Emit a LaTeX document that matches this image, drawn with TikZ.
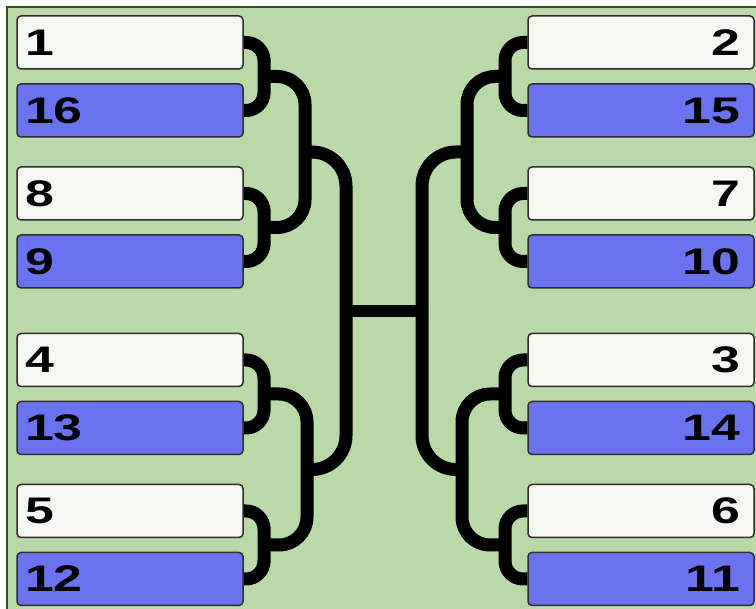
\documentclass[tikz,border=0pt]{standalone}
\usepackage{fontspec}
\newfontfamily\seedfont[FakeStretch=1.4]{Liberation Sans Bold}
\usetikzlibrary{positioning}
\definecolor{fieldgreen}{RGB}{187,216,168}
\definecolor{framegreen}{RGB}{45,85,35}
\definecolor{topwhite}{RGB}{246,246,244}
\definecolor{lowblue}{RGB}{106,114,240}
\definecolor{edgegray}{RGB}{45,45,45}

\begin{document}
\begin{tikzpicture}[x=1pt, y=-1pt,
  seed/.style={rectangle, rounded corners=4pt, draw=edgegray, line width=1.5pt,
    minimum width=226pt, minimum height=53pt, inner ysep=0pt,
    font=\seedfont\fontsize{37}{40}\selectfont},
  seedL/.style={seed, inner xsep=8pt, text width=210pt, align=left},
  seedR/.style={seed, inner xsep=14pt, text width=198pt, align=right},
  high/.style={fill=topwhite},
  low/.style={fill=lowblue},
  wire/.style={line width=13pt, black}]

\useasboundingbox (0,0) rectangle (756,609);

% Field
\fill[fieldgreen] (7,7) rectangle (756,609);
\draw[framegreen, line width=2pt] (7,609) -- (7,7) -- (756,7);

% Left seeds
\foreach \top/\bot/\y in {1/16/42.5, 8/9/193.5, 4/13/360, 5/12/511} {
  \node[seedL, high] (s\top) at (130,\y) {\top};
  \node[seedL, low] (s\bot) at (130,\y+68) {\bot};
}

% Right seeds
\foreach \top/\bot/\y in {2/15/42.5, 7/10/193.5, 3/14/360, 6/11/511} {
  \node[seedR, high] (s\top) at (641,\y) {\top};
  \node[seedR, low] (s\bot) at (641,\y+68) {\bot};
}

% Junctions left
\coordinate (jA) at (264,76.5);
\coordinate (jB) at (264,227.5);
\coordinate (jC) at (264,394);
\coordinate (jD) at (264,545);
\coordinate (kA) at (305,152);
\coordinate (kB) at (307,469.5);
\coordinate (mL) at (346,311);

% Junctions right
\coordinate (JA) at (505,76.5);
\coordinate (JB) at (505,227.5);
\coordinate (JC) at (505,394);
\coordinate (JD) at (505,545);
\coordinate (KA) at (467,152);
\coordinate (KB) at (462,469.5);
\coordinate (mR) at (422,311);

% First round
\foreach \top/\bot/\j in {1/16/jA, 8/9/jB, 4/13/jC, 5/12/jD}
  \draw[wire, rounded corners=18pt] (s\top.east) -| (\j) |- (s\bot.east);
\foreach \top/\bot/\j in {2/15/JA, 7/10/JB, 3/14/JC, 6/11/JD}
  \draw[wire, rounded corners=18pt] (s\top.west) -| (\j) |- (s\bot.west);

% Second round
\draw[wire, rounded corners=28pt] (jA) -| (kA) |- (jB);
\draw[wire, rounded corners=28pt] (jC) -| (kB) |- (jD);
\draw[wire, rounded corners=28pt] (JA) -| (KA) |- (JB);
\draw[wire, rounded corners=28pt] (JC) -| (KB) |- (JD);

% Third round and final
\draw[wire, rounded corners=34pt] (kA) -| (mL) |- (kB);
\draw[wire, rounded corners=34pt] (KA) -| (mR) |- (KB);
\draw[wire, line width=12pt] (mL) -- (mR);

\end{tikzpicture}
\end{document}
